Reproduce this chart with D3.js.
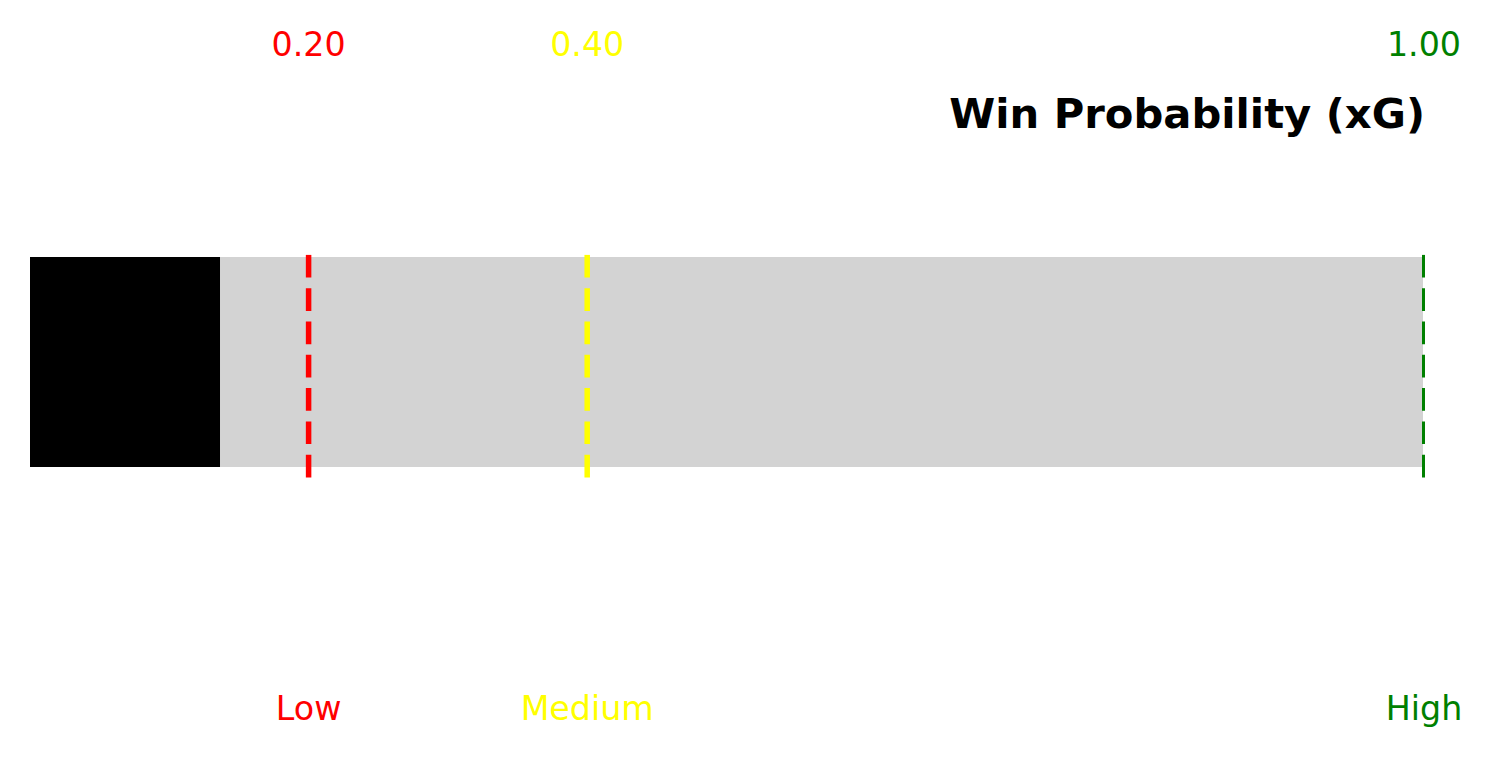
<!DOCTYPE html>
<html>
<head>
<meta charset="utf-8">
<script src="https://cdn.jsdelivr.net/npm/d3@7"></script>
<style>
  html, body { margin: 0; padding: 0; background: #fff; }
  svg { display: block; }
</style>
</head>
<body>
<div id="chart"></div>
<script>
// ---- data ----
const title = "Win Probability (xG)";
const winProbability = 0.1364;
const thresholdValues = [0.20, 0.40, 1.00];
const thresholdTickLabels = ["0.20", "0.40", "1.00"];
const thresholdNames = ["Low", "Medium", "High"];
const thresholdColors = ["#ff0000", "#ffff00", "#008000"];
const thresholdWidths = [5.5, 5.5, 3];

// ---- layout ----
const W = 1493, H = 758;
const svg = d3.select("#chart").append("svg").attr("width", W).attr("height", H);

const x = d3.scaleLinear().domain([0, 1]).range([30, 1423]);
const y = d3.scaleLinear().domain([0, 1]).range([467, 257]);
const font = "'DejaVu Sans', sans-serif";

// background bar
svg.append("rect")
  .attr("x", x(0)).attr("y", y(1))
  .attr("width", x(1) - x(0)).attr("height", y(0) - y(1))
  .attr("fill", "#d3d3d3");

// value bar
svg.append("rect")
  .attr("x", x(0)).attr("y", y(1))
  .attr("width", x(winProbability) - x(0)).attr("height", y(0) - y(1))
  .attr("fill", "#000");

const th = thresholdValues.map((v, i) => ({
  v, tick: thresholdTickLabels[i], name: thresholdNames[i],
  color: thresholdColors[i], w: thresholdWidths[i]
}));

// dashed threshold lines
svg.selectAll("line.th").data(th).enter().append("line")
  .attr("class", "th")
  .attr("x1", d => x(d.v) + (d.v === 1 ? 0.5 : 0)).attr("x2", d => x(d.v) + (d.v === 1 ? 0.5 : 0))
  .attr("y1", y(1.01)).attr("y2", y(-0.05))
  .attr("stroke", d => d.color)
  .attr("stroke-width", d => d.w)
  .attr("stroke-dasharray", "22.7,10.6");

// tick labels on top
svg.selectAll("text.tick").data(th).enter().append("text")
  .attr("class", "tick")
  .attr("x", d => x(d.v) + (d.v === 1 ? 1 : 0)).attr("y", 56)
  .attr("text-anchor", "middle")
  .attr("font-family", font).attr("font-size", 33.3)
  .attr("fill", d => d.color)
  .text(d => d.tick);

// names at bottom
svg.selectAll("text.name").data(th).enter().append("text")
  .attr("class", "name")
  .attr("x", d => x(d.v) + (d.v === 1 ? 1 : 0)).attr("y", 720)
  .attr("text-anchor", "middle")
  .attr("font-family", font).attr("font-size", 33.3)
  .attr("fill", d => d.color)
  .text(d => d.name);

// title
svg.append("text")
  .attr("x", x(1) + 2).attr("y", 128)
  .attr("text-anchor", "end")
  .attr("font-family", font).attr("font-size", 41.7).attr("font-weight", "bold")
  .attr("fill", "#000")
  .text(title);
</script>
</body>
</html>
